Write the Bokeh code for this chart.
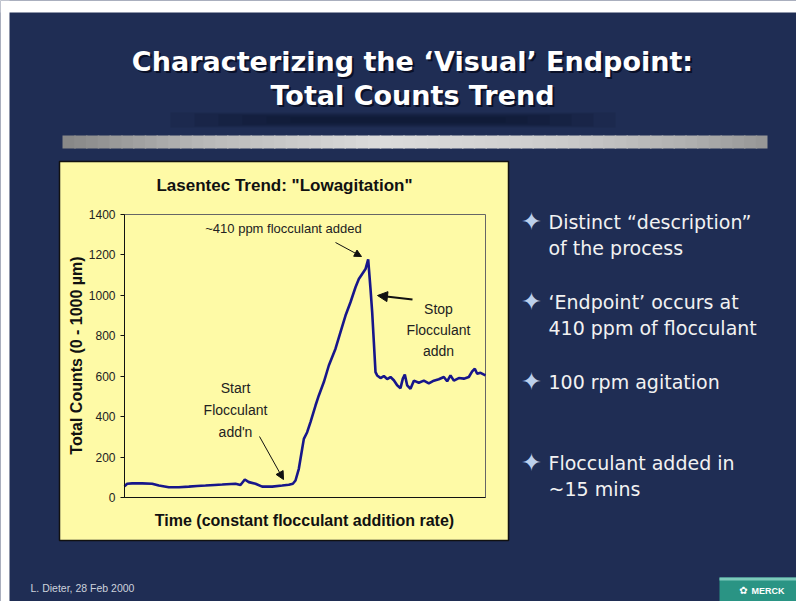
import math
from bokeh.plotting import figure
from bokeh.models import Range1d, FixedTicker, LinearAxis, Arrow, NormalHead
from bokeh.core.properties import value
from bokeh.embed import file_html
from bokeh.resources import INLINE

# ---------------- data ----------------
time_pts = [0, 0.74, 2.12, 4.89, 7.66, 9.51, 12.28, 15.05, 17.82, 20.1,
            22.44, 25.0, 27.06, 30.75, 32.13, 33.33, 34.44, 36.29, 38.13, 40.9,
            43.68, 45.52, 46.63, 47.37, 48.29, 49.22, 49.68, 50.6, 51.52, 52.91,
            53.83, 55.22, 56.6, 58.45, 59.83, 61.22, 62.6, 63.99, 64.91, 65.84,
            66.76, 67.5, 68.14, 68.61, 69.07, 69.53,
            69.99, 70.91, 71.84, 72.76, 73.68, 74.61, 75.53, 76.45, 77.1, 77.65,
            78.3, 79.22, 80.15, 81.53, 82.92, 84.3, 85.69, 87.07, 88.46, 89.38,
            90.3, 91.23, 92.61, 94.0, 95.38, 96.31, 97.04, 97.69, 98.61, 100]
total_counts = [56, 68, 70, 70, 68, 59, 51, 51, 54, 57,
                59, 62, 64, 68, 62, 89, 76, 68, 54, 54,
                59, 63, 68, 84, 142, 241, 290, 323, 373, 455,
                505, 571, 653, 736, 818, 900, 966, 1040, 1081, 1106,
                1130, 1178, 1033, 917, 769, 620,
                604, 591, 601, 586, 596, 580, 555, 541, 588, 608,
                555, 538, 578, 568, 578, 565, 578, 585, 596, 575,
                604, 578, 591, 588, 596, 624, 637, 612, 617, 604]
y_ticks = [0, 200, 400, 600, 800, 1000, 1200, 1400]
t_span = [0, 100]

slide_title = ["Characterizing the \u2018Visual\u2019 Endpoint:", "Total Counts Trend"]
chart_title = "Lasentec Trend: \"Lowagitation\""
x_label = "Time (constant flocculant addition rate)"
y_label = "Total Counts (0 - 1000 \u00b5m)"
peak_note = "~410 ppm flocculant added"
stop_note = ["Stop", "Flocculant", "addn"]
start_note = ["Start", "Flocculant", "add'n"]
bullets = [["Distinct \u201cdescription\u201d", "of the process"],
           ["\u2018Endpoint\u2019 occurs at", "410 ppm of flocculant"],
           ["100 rpm agitation"],
           ["Flocculant added in", "~15 mins"]]
footer = "L. Dieter, 28 Feb 2000"
logo_text = "MERCK"

# ---------------- styling / layout ----------------
NAVY = "#1f2d54"
YELLOW = "#fefaa6"
LINE = "#17168a"
INK = "#111111"

# page-pixel coordinates: figure occupies the whole window
PX0, PX1, PY0, PY1 = 0, 796, 0, 601
# inner chart frame (page pixels)
CL, CR, CT, CB = 124, 485, 214, 497

p = figure(width=PX1 - PX0, height=PY1 - PY0, output_backend="svg", toolbar_location=None,
           x_range=Range1d(PX0, PX1), y_range=Range1d(PY1, PY0),
           x_axis_location=None, y_axis_location=None,
           min_border=0, min_border_left=0, min_border_right=0,
           min_border_top=0, min_border_bottom=0)
p.border_fill_color = NAVY
p.background_fill_color = NAVY
p.outline_line_color = None
p.grid.visible = False

# extra ranges so that the chart data lands inside the inner frame
kx = (CR - CL) / (t_span[1] - t_span[0])
ky = (CB - CT) / (y_ticks[-1] - y_ticks[0])
p.extra_x_ranges = {"t": Range1d(t_span[0] - (CL - PX0) / kx, t_span[1] + (PX1 - CR) / kx)}
p.extra_y_ranges = {"c": Range1d(y_ticks[0] - (PY1 - CB) / ky, y_ticks[-1] + (CT - PY0) / ky)}


def box(X0, Y0, X1, Y1, color, alpha=1.0, line=None, lw=1):
    p.quad(left=[X0], right=[X1], top=[Y0], bottom=[Y1], fill_color=color,
           fill_alpha=alpha, line_color=line, line_width=lw)


def text(X, Y, t, size, color, font="Liberation Sans", style="normal",
         align="left", baseline="middle", angle=0.0):
    p.text(x=[X], y=[Y], text=[t], text_font=value(font), text_font_size=f"{size}px",
           text_font_style=style, text_color=color, text_align=align,
           text_baseline=baseline, angle=angle)


# white page strips (slide is slightly inset in the page)
box(PX0, PY0, PX1, 12, "white")
box(PX0, PY0, 9, PY1, "white")

# soft title shadow lens
for i in range(6):
    box(170 + 24 * i, 112 + i, 615 - 22 * i, 127 - i, "#080e24", 0.13)

# gradient bar
stops = [(62, 0x86), (200, 0xb8), (380, 0xdc), (560, 0xcc), (690, 0xb0), (767, 0x96)]
nseg = 60
for i in range(nseg):
    x0 = 62 + (767 - 62) * i / nseg
    x1 = 62 + (767 - 62) * (i + 1) / nseg
    xm = (x0 + x1) / 2
    g = stops[-1][1]
    for (a, ca), (b, cb) in zip(stops[:-1], stops[1:]):
        if a <= xm <= b:
            g = int(ca + (cb - ca) * (xm - a) / (b - a))
            break
    box(x0, 135, min(x1 + 1.5, 767), 148, "#%02x%02x%02x" % (g, g, g))

# yellow chart panel
box(59, 161, 508, 540, YELLOW, line=INK, lw=1.5)

# footer logo block
box(719, 577, PX1, PY1, "#2a9484")
box(719, 577, PX1, 580, "#7ccabb")

# ---------------- the chart ----------------
p.quad(left=[t_span[0]], right=[t_span[1]], bottom=[y_ticks[0]], top=[y_ticks[-1]],
       fill_color=None, line_color="#666666", line_width=1,
       x_range_name="t", y_range_name="c")
p.line(time_pts, total_counts, line_color=LINE, line_width=2.6,
       x_range_name="t", y_range_name="c")

yax = LinearAxis(x_range_name="t", y_range_name="c", fixed_location=t_span[0],
                 bounds=(y_ticks[0], y_ticks[-1]), ticker=FixedTicker(ticks=y_ticks))
yax.major_label_text_font = "Liberation Sans"
yax.major_label_text_font_size = "12px"
yax.major_label_text_color = "#222222"
yax.major_label_standoff = 5
yax.major_tick_out = 4
yax.major_tick_in = 0
yax.minor_tick_out = 0
yax.minor_tick_in = 0
yax.axis_line_color = INK
yax.major_tick_line_color = INK
p.add_layout(yax, "left")

xax = LinearAxis(x_range_name="t", y_range_name="c", fixed_location=y_ticks[0],
                 bounds=(t_span[0], t_span[1]), ticker=FixedTicker(ticks=[]))
xax.major_tick_out = 0
xax.minor_tick_out = 0
xax.axis_line_color = INK
p.add_layout(xax, "below")

# chart texts
text(284, 185, chart_title, 17, INK, style="bold", align="center")
text(304, 520, x_label, 16, INK, style="bold", align="center")
text(76, 355, y_label, 16, INK, style="bold", align="center", angle=math.pi / 2)
text(283, 228, peak_note, 13, "#222222", align="center")
for t, Y in zip(stop_note, [308, 329, 350]):
    text(438, Y, t, 14, "#222222", align="center")
for t, Y in zip(start_note, [387, 409, 431]):
    text(235, Y, t, 14, "#222222", align="center")

p.add_layout(Arrow(x_start=335, y_start=242, x_end=361, y_end=256, line_color=INK, line_width=1,
                   end=NormalHead(size=7, fill_color=INK, line_color=INK)))
p.add_layout(Arrow(x_start=412, y_start=299, x_end=377, y_end=295, line_color=INK, line_width=2,
                   end=NormalHead(size=10, fill_color=INK, line_color=INK)))
p.add_layout(Arrow(x_start=259, y_start=436, x_end=283, y_end=479, line_color=INK, line_width=1,
                   end=NormalHead(size=8, fill_color=INK, line_color=INK)))

# slide title with shadow
for t, Y in zip(slide_title, [61, 95]):
    text(414, Y + 2, t, 27, "#0a1028", font="DejaVu Sans", style="bold", align="center")
    text(412, Y, t, 27, "#ffffff", font="DejaVu Sans", style="bold", align="center")

# bullets
bullet_lines = [[221, 247], [301, 327], [381], [462, 488]]
for lines, ys in zip(bullets, bullet_lines):
    text(531, ys[0], "\u2726", 25, "#bcd0ec", font="DejaVu Sans", align="center")
    for t, Y in zip(lines, ys):
        text(548, Y, t, 19, "#f2f2f2", font="DejaVu Sans")

# footer
text(30, 587, footer, 10.5, "#cdd2dc")
text(743, 590, "\u273f", 10, "#ffffff", font="DejaVu Sans", align="center")
text(751, 590, logo_text, 9, "#ffffff", style="bold")

open("out.html", "w").write(file_html(p, INLINE))
